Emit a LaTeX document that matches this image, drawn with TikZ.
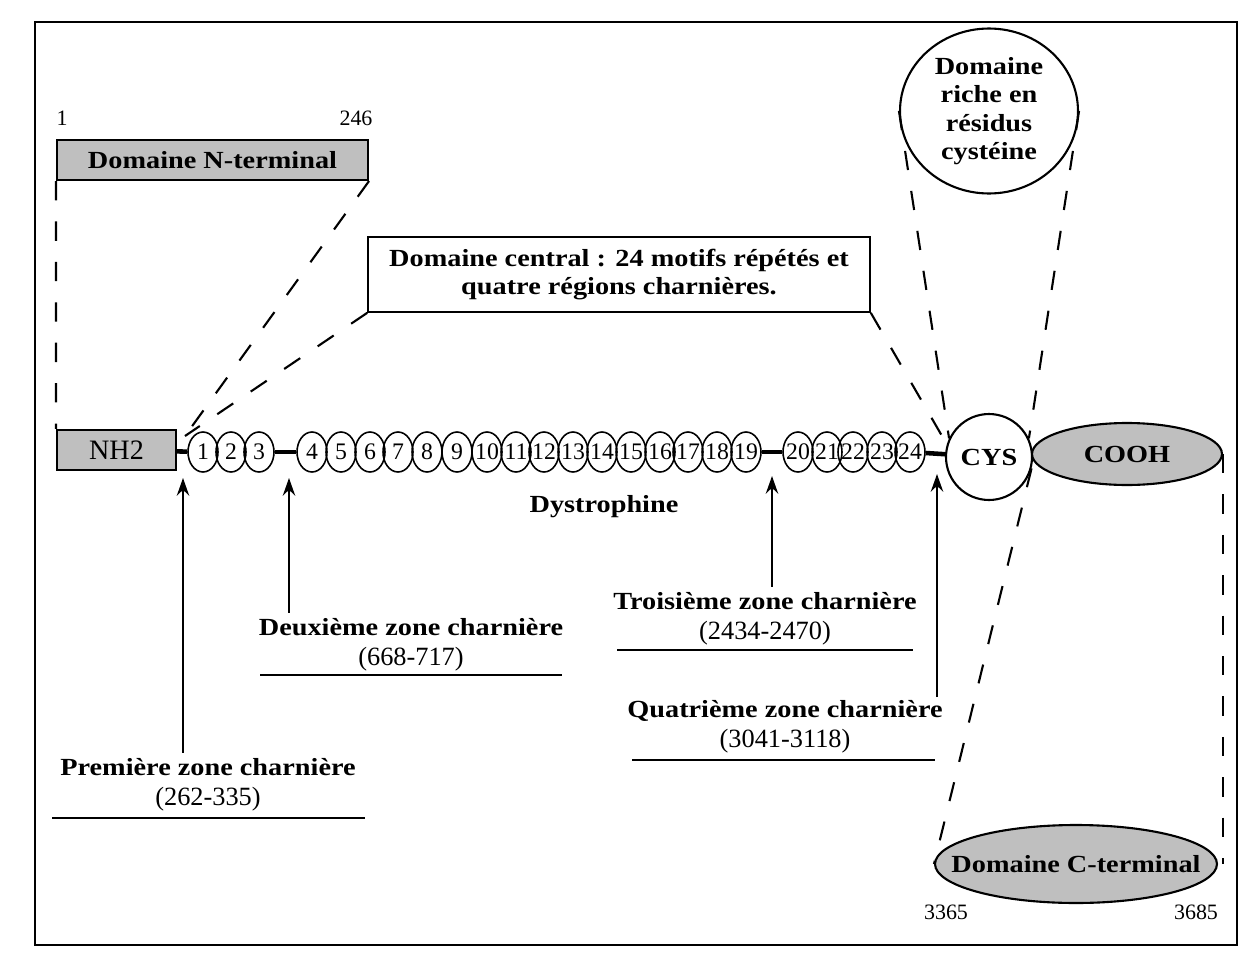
\documentclass[tikz,border=0pt]{standalone}
\usepackage{fontspec}
\setmainfont{Liberation Serif}[BoldFeatures={FakeStretch=1.15}]
\usetikzlibrary{shapes.geometric,arrows.meta}

\begin{document}
\begin{tikzpicture}[x=0.02cm, y=-0.02cm,
  motif/.style={draw, ellipse, minimum width=0.6cm, minimum height=0.8cm, inner xsep=-1.5pt, inner ysep=0pt, line width=0.9pt, font=\fontsize{13.5}{13.5}\selectfont},
  gris/.style={draw, fill=black!25, line width=1.2pt},
  titre/.style={font=\fontsize{14}{16.2}\selectfont\bfseries, align=center},
  num/.style={font=\fontsize{12.5}{14}\selectfont},
  zone/.style={align=center, font=\fontsize{15}{17}\selectfont},
  lien/.style={line width=2.6pt},
  tiret/.style={line width=1.2pt, dash pattern=on 11pt off 12pt},
  fleche/.style={line width=1.3pt, -{Stealth[length=10pt, width=7pt]}},
  regle/.style={line width=1.3pt}]
\useasboundingbox (0,0) rectangle (1242,967);
\draw[line width=1pt] (35,22) rectangle (1237,945);

\node[gris, rectangle, minimum width=6.22cm, minimum height=0.8cm, titre] (nterm) at (212.5,160) {Domaine N-terminal};
\node[num] (n1) at (62,118) {1};
\node[num] (n246) at (356,118) {246};
\node[draw, rectangle, line width=1pt, minimum width=10.04cm, minimum height=1.5cm, titre] (central) at (619,274.5) {Domaine central : 24 motifs répétés et\\quatre régions charnières.};
\node[draw, ellipse, line width=1.2pt, minimum width=3.56cm, minimum height=3.3cm, inner sep=0pt, titre] (riche) at (989,111) {Domaine\\riche en\\résidus\\cystéine};

\node[gris, rectangle, minimum width=2.38cm, minimum height=0.8cm, font=\fontsize{16}{16}\selectfont] (nh) at (116.5,450) {NH2};
\node[motif] (1) at (203,452) {1};
\node[motif] (2) at (231,452) {2};
\node[motif] (3) at (259,452) {3};
\node[motif] (4) at (312,452) {4};
\node[motif] (5) at (341,452) {5};
\node[motif] (6) at (370,452) {6};
\node[motif] (7) at (398,452) {7};
\node[motif] (8) at (427,452) {8};
\node[motif] (9) at (457,452) {9};
\node[motif] (10) at (487,452) {10};
\node[motif] (11) at (516,452) {11};
\node[motif] (12) at (544,452) {12};
\node[motif] (13) at (573,452) {13};
\node[motif] (14) at (602,452) {14};
\node[motif] (15) at (631,452) {15};
\node[motif] (16) at (660,452) {16};
\node[motif] (17) at (688,452) {17};
\node[motif] (18) at (717,452) {18};
\node[motif] (19) at (746,452) {19};
\node[motif] (20) at (798,452) {20};
\node[motif] (21) at (827,452) {21};
\node[motif] (22) at (853,452) {22};
\node[motif] (23) at (882,452) {23};
\node[motif] (24) at (910,452) {24};
\node[draw, circle, line width=1.2pt, minimum size=1.72cm, inner sep=0pt, titre] (cys) at (989,457) {CYS};
\node[gris, ellipse, minimum width=3.8cm, minimum height=1.24cm, titre] (cooh) at (1127,454) {COOH};
\node[titre] (dys) at (604,507) {Dystrophine};

\node[gris, ellipse, minimum width=5.64cm, minimum height=1.56cm, inner sep=0pt, titre] (cterm) at (1076,864) {\makebox[3cm]{Domaine C-terminal}};
\node[num] (n3365) at (946,912) {3365};
\node[num] (n3685) at (1196,912) {3685};

\node[zone] (z1) at (208,785) {\textbf{\fontsize{14}{17}\selectfont Première zone charnière}\\(262-335)};
\node[zone] (z2) at (411,645) {\textbf{\fontsize{14}{17}\selectfont Deuxième zone charnière}\\(668-717)};
\node[zone] (z3) at (765,619) {\textbf{\fontsize{14}{17}\selectfont Troisième zone charnière}\\(2434-2470)};
\node[zone] (z4) at (785,727) {\textbf{\fontsize{14}{17}\selectfont Quatrième zone charnière}\\(3041-3118)};

\coordinate (c1) at (183,478);
\coordinate (c2) at (289,478);
\coordinate (c3) at (772,476);
\coordinate (c4) at (937,474);
\coordinate (b4) at (937,697);
\coordinate (j1) at (185,436);
\coordinate (j2) at (942,436);

\draw[lien] (nh) -- (1);
\draw[lien] (3) -- (4);
\draw[lien] (19) -- (20);
\draw[lien] (24) -- (cys);

\draw[tiret] (nterm.south west) -- (nh.north west);
\draw[tiret] (nterm.south east) -- (j1);
\draw[tiret] (central.south west) -- (j1);
\draw[tiret] (central.south east) -- (j2);
\draw[tiret] (riche.west) -- (cys.155);
\draw[tiret] (riche.east) -- (cys.25);
\draw[tiret] (cys.-15) -- (cterm.west);
\draw[tiret] (cooh.east) -- (cooh.east |- cterm.east);

\draw[fleche] (c1 |- z1.north) -- (c1);
\draw[fleche] (c2 |- z2.north) -- (c2);
\draw[fleche] (c3 |- z3.north) -- (c3);
\draw[fleche] (b4) -- (c4);

\draw[regle] (52,818) -- (365,818);
\draw[regle] (260,675) -- (562,675);
\draw[regle] (617,650) -- (913,650);
\draw[regle] (632,760) -- (935,760);
\end{tikzpicture}
\end{document}
